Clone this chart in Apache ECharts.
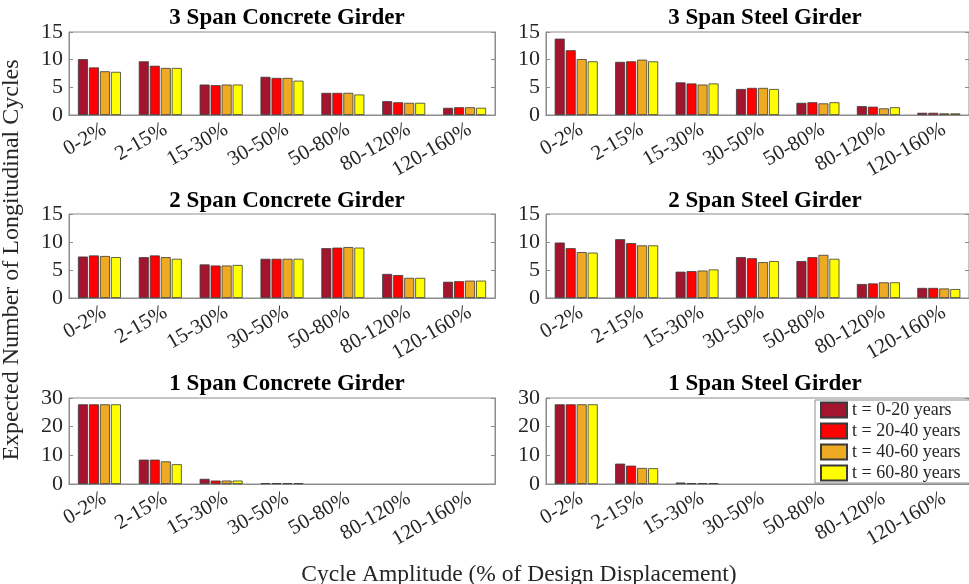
<!DOCTYPE html>
<html><head><meta charset="utf-8">
<script src="https://cdn.jsdelivr.net/npm/echarts@6/dist/echarts.min.js"></script>
<style>html,body{margin:0;padding:0;background:#fff}#c{width:969px;height:584px}</style>
</head><body><div id="c"></div>
<script>
const categories = ['0-2%','2-15%','15-30%','30-50%','50-80%','80-120%','120-160%'];
const periods = ['t = 0-20 years','t = 20-40 years','t = 40-60 years','t = 60-80 years'];
const panelTitles = ['3 Span Concrete Girder','3 Span Steel Girder','2 Span Concrete Girder','2 Span Steel Girder','1 Span Concrete Girder','1 Span Steel Girder'];
// values per period (rows) over categories (columns)
const span3Concrete = [
  [10.1, 9.7, 5.5, 6.9, 4.0, 2.5, 1.3],
  [8.6, 8.9, 5.4, 6.7, 4.0, 2.3, 1.4],
  [7.9, 8.5, 5.5, 6.7, 4.0, 2.2, 1.4],
  [7.8, 8.5, 5.5, 6.2, 3.7, 2.2, 1.3]
];
const span3Steel = [
  [13.8, 9.6, 5.9, 4.7, 2.2, 1.6, 0.4],
  [11.7, 9.7, 5.7, 4.9, 2.3, 1.5, 0.4],
  [10.1, 10.0, 5.5, 4.9, 2.1, 1.2, 0.3],
  [9.7, 9.7, 5.7, 4.7, 2.3, 1.4, 0.3]
];
const span2Concrete = [
  [7.4, 7.3, 6.0, 7.0, 8.9, 4.3, 2.9],
  [7.6, 7.6, 5.8, 7.0, 9.0, 4.1, 3.0],
  [7.5, 7.3, 5.8, 7.0, 9.1, 3.6, 3.1],
  [7.3, 7.0, 5.9, 7.0, 9.0, 3.6, 3.1]
];
const span2Steel = [
  [9.9, 10.5, 4.7, 7.3, 6.6, 2.5, 1.8],
  [8.9, 9.8, 4.8, 7.1, 7.3, 2.6, 1.8],
  [8.2, 9.4, 4.9, 6.4, 7.7, 2.8, 1.7],
  [8.1, 9.4, 5.1, 6.6, 7.0, 2.8, 1.6]
];
const span1Concrete = [
  [27.8, 8.5, 1.8, 0.3, 0, 0, 0],
  [27.8, 8.5, 1.2, 0.3, 0, 0, 0],
  [27.8, 7.9, 1.2, 0.3, 0, 0, 0],
  [27.8, 6.9, 1.2, 0.3, 0, 0, 0]
];
const span1Steel = [
  [27.8, 7.1, 0.5, 0, 0, 0, 0],
  [27.8, 6.4, 0.3, 0, 0, 0, 0],
  [27.8, 5.6, 0.3, 0, 0, 0, 0],
  [27.8, 5.5, 0.3, 0, 0, 0, 0]
];
const yMaxes = [15, 15, 15, 15, 30, 30];
const yIntervals = [5, 5, 5, 5, 10, 10];
const colors = ['#A3142E', '#FF0000', '#EDAA22', '#FFFF00'];

const panels = [span3Concrete, span3Steel, span2Concrete, span2Steel, span1Concrete, span1Steel];
const FONT = '"Liberation Serif", "Times New Roman", serif';
const lefts = [69, 546];
const widths = [426, 428];
const tops = [32, 214, 398];
const heights = [83, 84, 86];
const titleY = [2, 185, 368];
const axisCol = '#8c8c8c';
const txtCol = '#262626';

const grid = [], xAxis = [], yAxis = [], series = [], title = [];
panels.forEach((vals, p) => {
  const col = p % 2, row = Math.floor(p / 2);
  grid.push({left: lefts[col], top: tops[row], width: widths[col], height: heights[row],
    show: true, borderColor: axisCol, borderWidth: 1, backgroundColor: '#fff'});
  title.push({text: panelTitles[p], left: lefts[col] + widths[col] / 2, top: titleY[row], textAlign: 'center',
    textStyle: {fontFamily: FONT, fontWeight: 'bold', fontSize: 23, color: '#000'}});
  xAxis.push({type: 'category', gridIndex: p, data: categories, position: 'bottom',
    axisLine: {lineStyle: {color: axisCol}},
    axisTick: {inside: true, alignWithLabel: true, length: 4, lineStyle: {color: axisCol}},
    axisLabel: {rotate: 30, fontFamily: FONT, fontSize: 21, color: txtCol, margin: 4, interval: 0,
      verticalAlign: 'top'}});
  xAxis.push({type: 'category', gridIndex: p, data: categories, position: 'top',
    axisLine: {lineStyle: {color: axisCol}},
    axisTick: {inside: true, alignWithLabel: true, length: 4, lineStyle: {color: axisCol}},
    axisLabel: {show: false}});
  yAxis.push({type: 'value', gridIndex: p, min: 0, max: yMaxes[p], interval: yIntervals[p], position: 'left',
    axisLine: {show: true, lineStyle: {color: axisCol}},
    axisTick: {show: true, inside: true, length: 4, lineStyle: {color: axisCol}},
    splitLine: {show: false},
    axisLabel: {fontFamily: FONT, fontSize: 22, color: txtCol, margin: 6}});
  yAxis.push({type: 'value', gridIndex: p, min: 0, max: yMaxes[p], interval: yIntervals[p], position: 'right',
    axisLine: {show: true, lineStyle: {color: axisCol}},
    axisTick: {show: true, inside: true, length: 4, lineStyle: {color: axisCol}},
    splitLine: {show: false}, axisLabel: {show: false}});
  vals.forEach((row, k) => {
    series.push({type: 'bar', name: periods[k], xAxisIndex: 2 * p, yAxisIndex: 2 * p,
      data: row.map(v => v === 0 ? {value: v, itemStyle: {borderWidth: 0}} : v),
      barWidth: 10, barGap: '10%',
      itemStyle: {color: colors[k], borderColor: '#3a3a3a', borderWidth: 0.8},
      emphasis: {disabled: true}, animation: false});
  });
});

title.push({text: 'Cycle Amplitude (% of Design Displacement)', left: 514, top: 558, textAlign: 'center',
  textStyle: {fontFamily: FONT, fontWeight: 'normal', fontSize: 23.5, color: txtCol}});

const chart = echarts.init(document.getElementById('c'), null, {renderer: 'canvas'});
chart.setOption({
  animation: false,
  backgroundColor: '#fff',
  title, grid, xAxis, yAxis, series,
  legend: {data: periods, orient: 'vertical', left: 815, top: 400, align: 'left', icon: 'rect',
    itemWidth: 26, itemHeight: 15, itemGap: 3, padding: [1, 20, 1, 5],
    borderColor: axisCol, borderWidth: 1, backgroundColor: '#fff',
    textStyle: {fontFamily: FONT, fontSize: 18, color: txtCol}},
  graphic: [{type: 'text', rotation: Math.PI / 2, x: 12, y: 260,
    style: {text: 'Expected Number of Longitudinal Cycles', font: '24px ' + FONT, fill: txtCol,
      textAlign: 'center', textVerticalAlign: 'middle'}}]
});
</script></body></html>
